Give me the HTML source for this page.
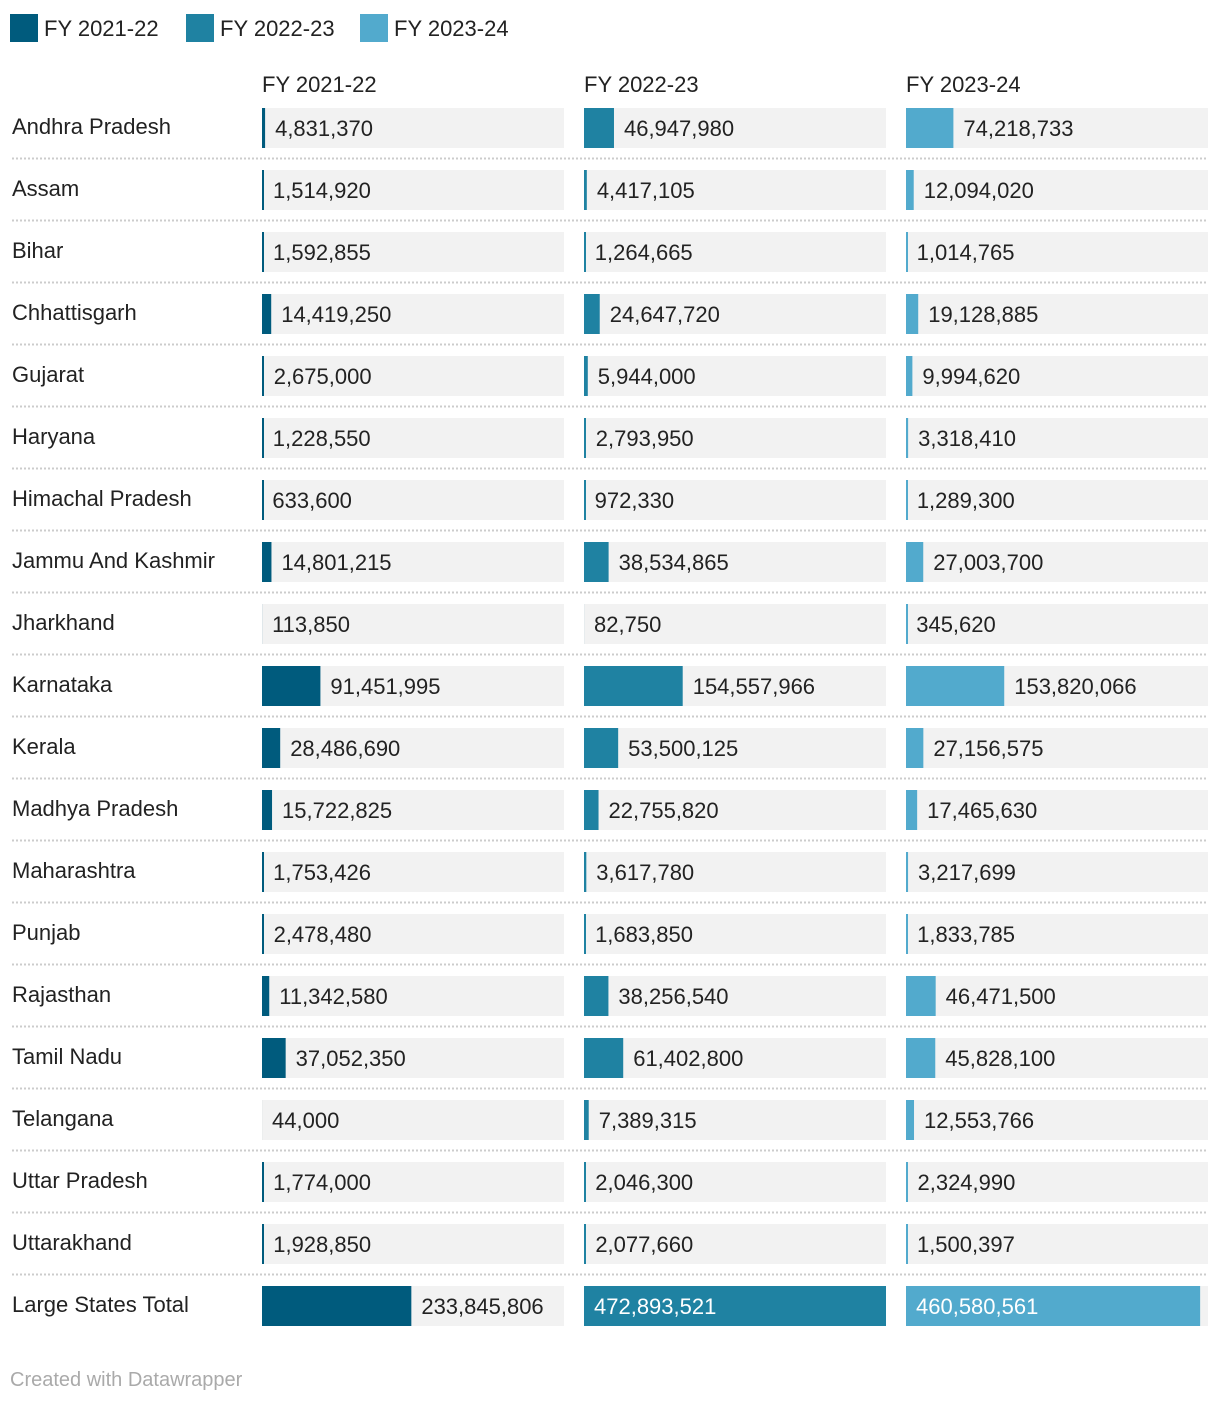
<!DOCTYPE html>
<html><head><meta charset="utf-8"><style>
body{margin:0;background:#fff;width:1220px;height:1402px;overflow:hidden;font-family:"Liberation Sans",sans-serif}
svg text{font-family:"Liberation Sans",sans-serif}
</style></head><body>
<svg id="chart" width="1220" height="1402" xmlns="http://www.w3.org/2000/svg">
<g id="legend"></g>
<g id="body"></g>
<text x="10" y="1386" font-size="20" fill="#aaa">Created with Datawrapper</text>
</svg>
<script>
const states=["Andhra Pradesh","Assam","Bihar","Chhattisgarh","Gujarat","Haryana","Himachal Pradesh","Jammu And Kashmir","Jharkhand","Karnataka","Kerala","Madhya Pradesh","Maharashtra","Punjab","Rajasthan","Tamil Nadu","Telangana","Uttar Pradesh","Uttarakhand","Large States Total"];
const series=["FY 2021-22","FY 2022-23","FY 2023-24"];
const fy2122=[4831370,1514920,1592855,14419250,2675000,1228550,633600,14801215,113850,91451995,28486690,15722825,1753426,2478480,11342580,37052350,44000,1774000,1928850,233845806];
const fy2223=[46947980,4417105,1264665,24647720,5944000,2793950,972330,38534865,82750,154557966,53500125,22755820,3617780,1683850,38256540,61402800,7389315,2046300,2077660,472893521];
const fy2324=[74218733,12094020,1014765,19128885,9994620,3318410,1289300,27003700,345620,153820066,27156575,17465630,3217699,1833785,46471500,45828100,12553766,2324990,1500397,460580561];
const values=[fy2122,fy2223,fy2324];
const colors=["#005b7d","#1f82a2","#52aacd"];
const NS="http://www.w3.org/2000/svg";
const colX=[262,584,906], colW=302, topY=108, pitch=62, barH=40;
const maxV=Math.max(...values.flat());
const xs=v=>colW*v/maxV;
function mk(tag,attrs,parent){const e=document.createElementNS(NS,tag);for(const k in attrs)e.setAttribute(k,attrs[k]);parent.appendChild(e);return e;}
const lg=document.getElementById('legend');
const bodyG=document.getElementById('body');
const lgX=[10,186,360];
series.forEach((s,i)=>{
  const r=mk('rect',{x:lgX[i],y:14,width:28,height:28,fill:colors[i]},lg);
  
  
  const t=mk('text',{x:lgX[i]+34,y:36,'font-size':22,fill:'#222'},lg);
  t.textContent=s;
  
  
  const h=mk('text',{x:colX[i],y:92,'font-size':22,fill:'#222'},bodyG);
  h.textContent=s;
  
  
});
states.forEach((st,r)=>{
  const y=topY+r*pitch;
  const lab=mk('text',{x:12,y:y+26,'font-size':22,fill:'#222'},bodyG);
  lab.textContent=st;
  
  
  if(r<states.length-1){
    const ln=mk('line',{x1:12,x2:1208,y1:y+50.5,y2:y+50.5,stroke:'#ccc','stroke-width':2,'stroke-dasharray':'2,2'},bodyG);
    
    
  }
  series.forEach((s,c)=>{
    const bg=mk('rect',{x:colX[c],y:y,width:colW,height:barH,fill:'#f2f2f2'},bodyG);
    
    
    const v=values[c][r], w=xs(v);
    const b=mk('rect',{x:colX[c],y:y,width:Math.max(w,v>300000?2:0),height:barH,fill:colors[c]},bodyG);
    
    
    const inside=w>200;
    const t=mk('text',{x:inside?colX[c]+10:colX[c]+Math.max(w,0)+10,y:y+28,'font-size':22,fill:inside?'#fff':'#222'},bodyG);
    t.textContent=v.toLocaleString('en-US');
    
    
  });
});
</script>
</body></html>
